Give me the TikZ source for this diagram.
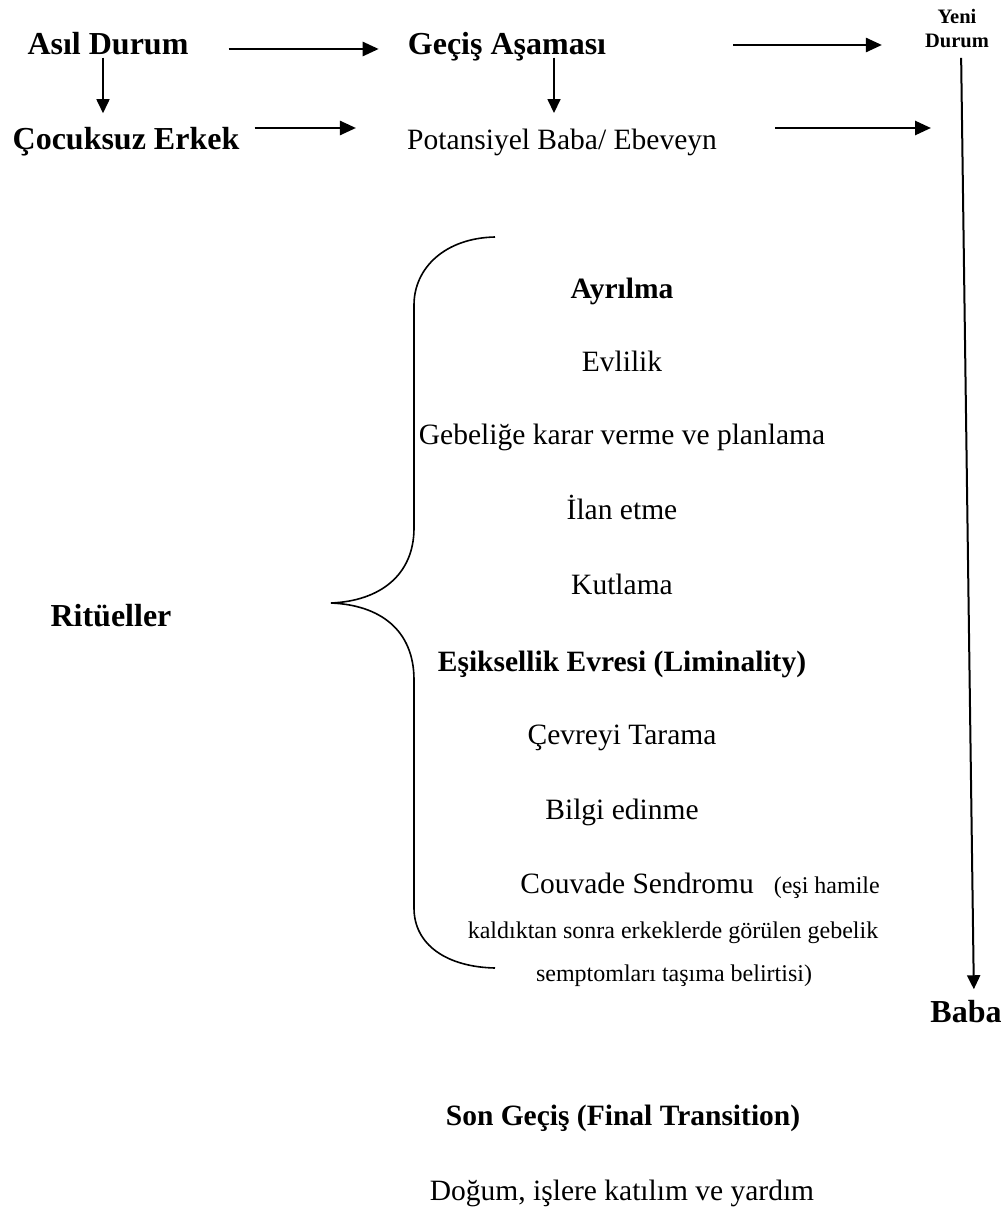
\documentclass[tikz,border=0pt]{standalone}
\usepackage{fontspec}
\setmainfont{Liberation Serif}
\usepackage{tikz}
\usetikzlibrary{arrows.meta}

\tikzset{
	big/.style={font=\fontsize{32}{38}\selectfont\bfseries, inner sep=0pt, text height=21.1pt, text depth=0pt},
	body/.style={font=\fontsize{29.5}{35}\selectfont, inner sep=0pt, text height=19.5pt, text depth=0pt},
	bodyb/.style={body, font=\fontsize{29.5}{35}\selectfont\bfseries},
	note/.style={font=\fontsize{24}{29}\selectfont, inner sep=0pt, text height=15.9pt, text depth=0pt},
	tiny/.style={font=\fontsize{20.5}{24}\selectfont\bfseries, inner sep=0pt, align=center},
	arr/.style={-{Triangle[length=16pt,width=14pt]}, line width=2.6pt},
	darr/.style={-{Triangle[length=14pt,width=13pt]}, line width=1.6pt}
}

\begin{document}
\begin{tikzpicture}[x=1pt, y=-1pt]
	\useasboundingbox (0,0) rectangle (1003,1209);
	% top rows
	\node[big] (asil) at (108,44) {Asıl Durum};
	\node[big] (gecis) at (507,44) {Geçiş Aşaması};
	\node[tiny, anchor=north] (yeni) at (957,9) {Yeni\\Durum};
	\node[big] (cocuk) at (126,139) {Çocuksuz Erkek};
	\node[body] (potans) at (562,140) {Potansiyel Baba/ Ebeveyn};
	\coordinate (rowend) at (931,128);
	\draw[arr, shorten <=40pt, shorten >=29pt] ([yshift=-5pt]asil.east) -- ([yshift=-5pt]asil.east -| gecis.west);
	\draw[arr, shorten <=127pt, shorten >=43pt] ([yshift=-1pt]gecis.east) -- ([yshift=-1pt]gecis.east -| yeni.west);
	\draw[darr, shorten <=3pt, shorten >=15pt] ([xshift=-5pt]asil.south) -- ([xshift=-5pt]asil.south |- cocuk.north);
	\draw[darr, shorten <=3pt, shorten >=17pt] ([xshift=47pt]gecis.south) -- ([xshift=47pt]gecis.south |- potans.north);
	\draw[arr, shorten <=15pt, shorten >=51pt] ([yshift=11pt]cocuk.east) -- ([yshift=11pt]cocuk.east -| potans.west);
	\draw[arr, shorten <=58pt] ([yshift=12pt]potans.east) -- (rowend);
	% rituals
	\node[big] (rit) at (111,616) {Ritüeller};
	\draw[line width=1.6pt] (495,237) .. controls (445,238) and (414,268) .. (414,305) -- (414,528)
		.. controls (414,575) and (380,601) .. (331,603) .. controls (380,605) and (414,630) .. (414,680)
		-- (414,908) .. controls (414,945) and (447,967) .. (495,968);
	\node[bodyb] (ayr) at (622,289) {Ayrılma};
	\node[body] (evl) at (622,362) {Evlilik};
	\node[body] (geb) at (622,435) {Gebeliğe karar verme ve planlama};
	\node[body] (ilan) at (622,510) {İlan etme};
	\node[body] (kut) at (622,585) {Kutlama};
	\node[bodyb] (esik) at (622,662) {Eşiksellik Evresi (Liminality)};
	\node[body] (cev) at (622,735) {Çevreyi Tarama};
	\node[body] (bil) at (622,810) {Bilgi edinme};
	\node[body, anchor=east] (couv) at (880,884) {Couvade Sendromu\hspace{20pt}{\fontsize{24}{29}\selectfont(eşi hamile}};
	\node[note] (kald) at (673,931) {kaldıktan sonra erkeklerde görülen gebelik};
	\node[note] (semp) at (674,974) {semptomları taşıma belirtisi)};
	% new state
	\node[big] (baba) at (966,1012) {Baba};
	\draw[darr, line width=2pt, shorten <=10pt, shorten >=12pt] ([xshift=4pt]yeni.south) -- ([xshift=8pt]baba.north);
	% final
	\node[bodyb] (son) at (623,1116) {Son Geçiş (Final Transition)};
	\node[body] (dog) at (622,1191) {Doğum, işlere katılım ve yardım};
\end{tikzpicture}
\end{document}
